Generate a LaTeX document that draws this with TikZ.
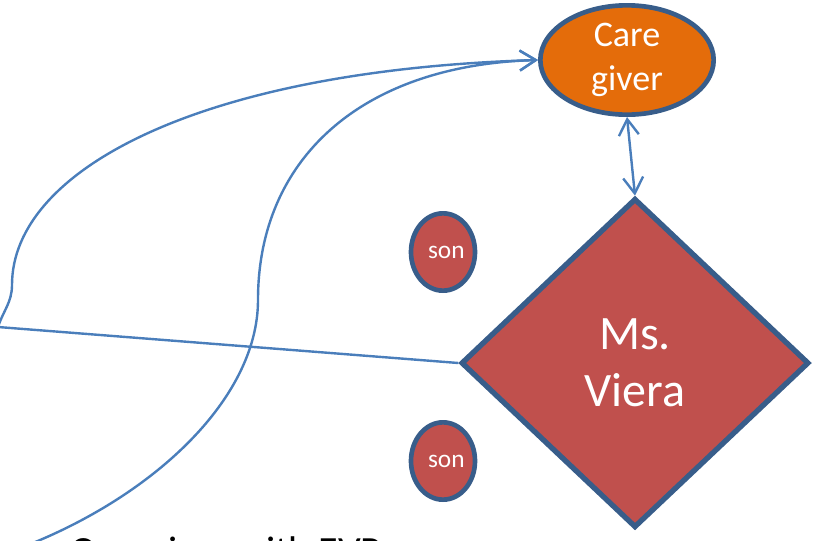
\documentclass[tikz,border=0pt]{standalone}
\usepackage{fontspec}
\setmainfont{Carlito}
\usetikzlibrary{shapes.geometric}
\usetikzlibrary{arrows.meta}
\definecolor{cgorange}{HTML}{E46C0A}
\definecolor{redfill}{HTML}{C0504D}
\definecolor{edgeblue}{HTML}{385D8A}
\definecolor{linkblue}{HTML}{4A7EBB}

\begin{document}
\begin{tikzpicture}[x=0.75pt,y=-0.75pt,
    carer/.style={
% The shape:
ellipse,
% The size:
minimum width=130pt,
minimum height=82pt,
inner sep=0pt,
% The border:
line width=3.5pt, draw=edgeblue, fill=cgorange,
% The text:
text=white, align=center, font=\fontsize{27}{33}\selectfont,
},
    person/.style={
% The shape:
diamond,
% The size:
minimum width=261pt,
minimum height=247pt,
inner sep=0pt,
% The border:
line width=4pt, draw=edgeblue, fill=redfill,
% The text:
text=white, align=center, font=\fontsize{36}{43}\selectfont,
},
    child/.style={
% The shape:
ellipse,
% The size:
minimum width=48pt,
minimum height=58pt,
inner sep=0pt,
% The border:
line width=3.5pt, draw=edgeblue, fill=redfill,
% The text:
text=white, font=\fontsize{19}{22}\selectfont,
},
    link/.style={line width=1.8pt, draw=linkblue},
    >={Straight Barb[length=12pt,width=15pt]},
]
  \useasboundingbox (0,0) rectangle (818,540);
  \clip (0,0) rectangle (818,540);
  \node[carer] (cg) at (627, 60) {Care\\giver};
  \node[person] (ms) at (635, 363) {Ms.\\Viera};
  \node[child] (s1) at (443, 252) {\hspace{5pt}son};
  \node[child] (s2) at (443, 461) {\hspace{5pt}son};
  \node[anchor=base west, font=\fontsize{30}{36}\selectfont] (org) at (66, 564) {Organizes with EVP};
  \coordinate (lft) at (-2, 327);
  \coordinate (btm) at (15, 550);
  \draw [link,<->] (cg.south) -- (ms.north);
  \draw [link] (ms.west) -- (lft);
  \draw [link,->] (lft) to [out=72,in=-90] (12, 285)
        .. controls (12, 170) and (200, 70) .. (cg.west);
  \draw [link,->] (btm) .. controls (150, 500) and (258, 400) .. (258, 300)
        .. controls (258, 160) and (360, 65) .. (cg.west);

\end{tikzpicture}
\end{document}
